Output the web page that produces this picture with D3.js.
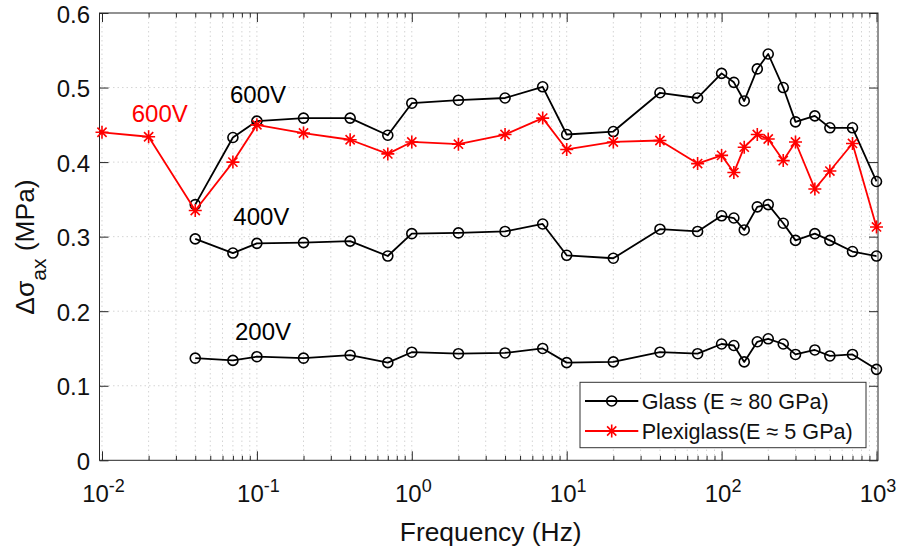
<!DOCTYPE html>
<html>
<head>
<meta charset="utf-8">
<script src="https://cdn.jsdelivr.net/npm/d3@7/dist/d3.min.js"></script>
<style>
  html, body { margin: 0; padding: 0; background: #fff; }
  svg { display: block; font-family: "Liberation Sans", Arial, Helvetica, sans-serif; }
</style>
</head>
<body>
<svg id="chart" width="899" height="552"></svg>
<script>
// Frequencies (Hz) at which the amplitude was measured
const freqGlass = [0.04, 0.07, 0.1, 0.2, 0.4, 0.7, 1, 2, 4, 7, 10, 20, 40, 70, 100, 120, 140, 170, 200, 250, 300, 400, 500, 700, 1000];
const freqPlexi = [0.01, 0.02, 0.04, 0.07, 0.1, 0.2, 0.4, 0.7, 1, 2, 4, 7, 10, 20, 40, 70, 100, 120, 140, 170, 200, 250, 300, 400, 500, 700, 1000];

// Δσ_ax (MPa) for glass at three drive voltages
const glass600 = [0.343, 0.433, 0.455, 0.459, 0.459, 0.436, 0.479, 0.483, 0.486, 0.501, 0.437, 0.441, 0.493, 0.486, 0.519, 0.507, 0.482, 0.525, 0.545, 0.500, 0.454, 0.462, 0.446, 0.446, 0.374];
const glass400 = [0.297, 0.278, 0.291, 0.292, 0.294, 0.274, 0.304, 0.305, 0.307, 0.317, 0.275, 0.271, 0.310, 0.307, 0.328, 0.325, 0.309, 0.340, 0.343, 0.318, 0.295, 0.304, 0.295, 0.280, 0.274];
const glass200 = [0.137, 0.134, 0.139, 0.137, 0.141, 0.131, 0.145, 0.143, 0.144, 0.150, 0.131, 0.132, 0.145, 0.143, 0.156, 0.154, 0.132, 0.159, 0.163, 0.156, 0.142, 0.148, 0.140, 0.142, 0.122];

// Δσ_ax (MPa) for plexiglass at 600 V
const plexi600 = [0.440, 0.434, 0.335, 0.400, 0.450, 0.439, 0.430, 0.411, 0.427, 0.424, 0.437, 0.459, 0.417, 0.427, 0.429, 0.398, 0.409, 0.386, 0.420, 0.437, 0.431, 0.402, 0.427, 0.364, 0.388, 0.425, 0.313];

// Axis ticks
const yTicks = [0, 0.1, 0.2, 0.3, 0.4, 0.5, 0.6];
const yTickLabels = ["0", "0.1", "0.2", "0.3", "0.4", "0.5", "0.6"];
const xExponents = [-2, -1, 0, 1, 2, 3];
const legendLabels = ["Glass (E \u2248 80 GPa)", "Plexiglass(E \u2248 5 GPa)"];

const svg = d3.select("#chart");
const plotLeft = 99.5, plotRight = 878, plotTop = 13, plotBottom = 460.3;

// x axis limits sit a hair outside the 10^-2 … 10^3 decades
const x = d3.scaleLog()
  .domain([Math.pow(10, -2.0161), Math.pow(10, 3.0097)])
  .range([plotLeft, plotRight]);
const y = d3.scaleLinear().domain([0, 0.6]).range([plotBottom, plotTop]);

const xMajor = xExponents.map(e => Math.pow(10, e));
const xMinor = [];
for (let e = -2; e < 3; e++) for (let m = 2; m <= 9; m++) xMinor.push(m * Math.pow(10, e));

// Dotted grid
const grid = svg.append("g").attr("stroke", "#d4d4d4").attr("stroke-width", 1).attr("stroke-dasharray", "1.5,3");
grid.selectAll("line.gx").data(xMajor.concat(xMinor).filter(v => x(v) > plotLeft + 1 && x(v) < plotRight - 1))
  .join("line").attr("x1", d => x(d)).attr("x2", d => x(d)).attr("y1", plotTop).attr("y2", plotBottom);
grid.selectAll("line.gy").data(yTicks.filter(v => v > 0 && v < 0.6))
  .join("line").attr("x1", plotLeft).attr("x2", plotRight).attr("y1", d => y(d)).attr("y2", d => y(d));

// Ticks on all four sides, pointing inwards
const tickColor = "#262626";
function tickAxis(gen, tx, ty) {
  const g = svg.append("g").attr("transform", `translate(${tx},${ty})`).call(gen);
  g.select(".domain").remove();
  g.selectAll("text").remove();
  g.selectAll("line").attr("stroke", tickColor).attr("stroke-width", 1);
}
tickAxis(d3.axisBottom(x).tickValues(xMajor).tickSize(-9).tickFormat(""), 0, plotBottom);
tickAxis(d3.axisBottom(x).tickValues(xMinor).tickSize(-4.5).tickFormat(""), 0, plotBottom);
tickAxis(d3.axisTop(x).tickValues(xMajor).tickSize(-9).tickFormat(""), 0, plotTop);
tickAxis(d3.axisTop(x).tickValues(xMinor).tickSize(-4.5).tickFormat(""), 0, plotTop);
tickAxis(d3.axisLeft(y).tickValues(yTicks).tickSize(-9).tickFormat(""), plotLeft, 0);
tickAxis(d3.axisRight(y).tickValues(yTicks).tickSize(-9).tickFormat(""), plotRight, 0);

// Frame
svg.append("rect").attr("x", plotLeft).attr("y", plotTop).attr("width", plotRight - plotLeft).attr("height", plotBottom - plotTop)
  .attr("fill", "none").attr("stroke", tickColor).attr("stroke-width", 1);

// Y tick labels
svg.append("g").selectAll("text").data(yTicks).join("text")
  .attr("x", 90).attr("y", d => y(d) + 9.5)
  .attr("text-anchor", "end").attr("font-size", 24).attr("fill", "#111")
  .text((d, i) => yTickLabels[i]);

// X tick labels as powers of ten
const xl = svg.append("g").selectAll("text").data(xExponents).join("text")
  .attr("x", d => x(Math.pow(10, d)) + 1.5).attr("y", 501.7)
  .attr("text-anchor", "middle").attr("font-size", 24).attr("fill", "#111");
xl.append("tspan").text("10");
xl.append("tspan").attr("font-size", 18).attr("dy", -10).text(d => d < 0 ? "-" + Math.abs(d) : String(d));

// Axis titles
svg.append("text").attr("x", 490.7).attr("y", 540.7).attr("text-anchor", "middle")
  .attr("font-size", 26.4).attr("fill", "#111").text("Frequency (Hz)");

const yt = svg.append("text").attr("transform", "translate(33.5,247) rotate(-90)")
  .attr("text-anchor", "middle").attr("font-size", 26.4).attr("fill", "#111");
yt.append("tspan").text("\u0394\u03c3");
yt.append("tspan").attr("font-size", 21).attr("dy", 12).text("ax");
yt.append("tspan").attr("dy", -12).text(" (MPa)");

// Series
const line = d3.line().x(d => x(d[0])).y(d => y(d[1]));
const plot = svg.append("g");

function drawCircles(freqs, vals) {
  const pts = freqs.map((f, i) => [f, vals[i]]);
  plot.append("path").datum(pts).attr("d", line)
    .attr("fill", "none").attr("stroke", "#000").attr("stroke-width", 1.8).attr("stroke-linejoin", "round");
  plot.append("g").selectAll("circle").data(pts).join("circle")
    .attr("cx", d => x(d[0])).attr("cy", d => y(d[1])).attr("r", 5)
    .attr("fill", "none").attr("stroke", "#000").attr("stroke-width", 1.6);
}

const starR = 6.5, sd = starR * Math.SQRT1_2;
const starPath = `M${-starR},0L${starR},0M0,${-starR}L0,${starR}M${-sd},${-sd}L${sd},${sd}M${-sd},${sd}L${sd},${-sd}`;
function drawStars(freqs, vals) {
  const pts = freqs.map((f, i) => [f, vals[i]]);
  plot.append("path").datum(pts).attr("d", line)
    .attr("fill", "none").attr("stroke", "#ff0000").attr("stroke-width", 1.8).attr("stroke-linejoin", "round");
  plot.append("g").selectAll("path").data(pts).join("path")
    .attr("transform", d => `translate(${x(d[0])},${y(d[1])})`)
    .attr("d", starPath).attr("fill", "none").attr("stroke", "#ff0000").attr("stroke-width", 1.6);
}

drawCircles(freqGlass, glass600);
drawStars(freqPlexi, plexi600);
drawCircles(freqGlass, glass400);
drawCircles(freqGlass, glass200);

// Voltage annotations
const notes = svg.append("g").attr("font-size", 24);
notes.append("text").attr("x", 230).attr("y", 103.3).attr("fill", "#000").text("600V");
notes.append("text").attr("x", 131.7).attr("y", 121.7).attr("fill", "#ff0000").text("600V");
notes.append("text").attr("x", 233.3).attr("y", 225).attr("fill", "#000").text("400V");
notes.append("text").attr("x", 235).attr("y", 340).attr("fill", "#000").text("200V");

// Legend
const lg = svg.append("g");
lg.append("rect").attr("x", 580).attr("y", 382.3).attr("width", 286).attr("height", 65.4)
  .attr("fill", "#fff").attr("stroke", "#333").attr("stroke-width", 1);
const rows = [
  { y: 401, color: "#000", label: legendLabels[0], mark: "circle" },
  { y: 431, color: "#ff0000", label: legendLabels[1], mark: "star" }
];
rows.forEach(r => {
  lg.append("line").attr("x1", 585).attr("x2", 638.3).attr("y1", r.y).attr("y2", r.y)
    .attr("stroke", r.color).attr("stroke-width", 1.8);
  if (r.mark === "circle") {
    lg.append("circle").attr("cx", 611.7).attr("cy", r.y).attr("r", 5)
      .attr("fill", "none").attr("stroke", r.color).attr("stroke-width", 1.6);
  } else {
    lg.append("path").attr("transform", `translate(611.7,${r.y})`).attr("d", starPath)
      .attr("fill", "none").attr("stroke", r.color).attr("stroke-width", 1.6);
  }
  lg.append("text").attr("x", 641.7).attr("y", r.y + 8).attr("font-size", 21.6).attr("fill", "#111")
    .text(r.label);
});
</script>
</body>
</html>
